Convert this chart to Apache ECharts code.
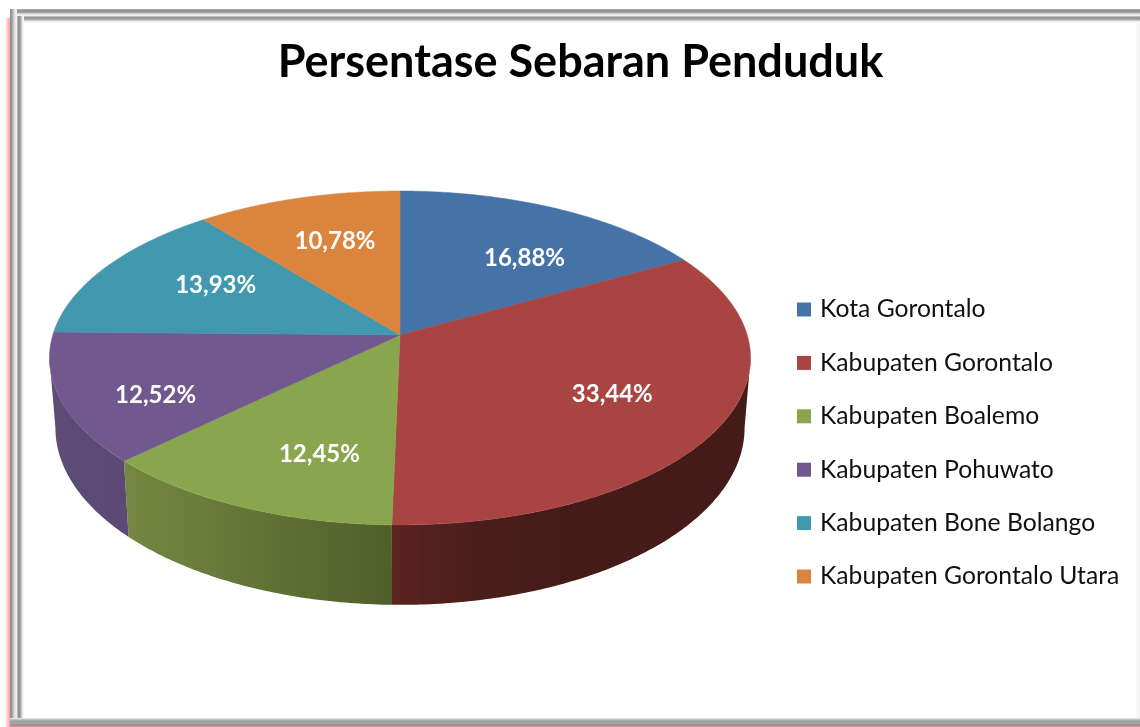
<!DOCTYPE html>
<html>
<head>
<meta charset="utf-8">
<style>html,body{margin:0;padding:0;background:#fff}#c{width:1140px;height:727px}</style>
<script src="https://cdn.jsdelivr.net/npm/echarts@6/dist/echarts.min.js"></script>
</head>
<body>
<div id="c"></div>
<script>
const chartTitle = 'Persentase Sebaran Penduduk';
const regions = ['Kota Gorontalo','Kabupaten Gorontalo','Kabupaten Boalemo','Kabupaten Pohuwato','Kabupaten Bone Bolango','Kabupaten Gorontalo Utara'];
const percentages = [16.88,33.44,12.45,12.52,13.93,10.78];
const topColors = ['#4572A7','#A84542','#89A54E','#71588F','#4198AF','#DB843D'];
// side wall shade at the beginning and the end of each slice's sweep
const sideFrom = [[50,80,120],[68,27,24],[80,95,42],[92,73,116],[50,110,130],[160,95,45]];
const sideTo   = [[50,80,120],[94,36,33],[116,136,66],[94,75,118],[50,110,130],[160,95,45]];
const sideEase = [1,5,1,1,1,1];
// label shift from the mid-slice anchor
const labelShift = [[11,15],[-7,-3],[26,4],[-10,17],[25,-1],[9,5]];

// perspective layout of the disc
const view = {cx:400, cy:335, rx:347.2, ry:163.8, k:0.1377, floorCy:403.5, floorX:0.983, floorY:1.06, labelR:0.7};
const total = percentages.reduce((a,b)=>a+b,0);
const starts = percentages.map((_,i)=>percentages.slice(0,i).reduce((a,b)=>a+b,0));

function project(angle, r, floor){
  const X = Math.sin(angle)*r, Y = -Math.cos(angle)*r, d = 1 - view.k*Y;
  const px = view.rx*X/d, py = view.ry*Y/d;
  return floor ? [view.cx + view.floorX*px, view.floorCy + view.floorY*py]
               : [view.cx + px, view.cy + py];
}
function mix(a,b,t){return 'rgb('+a.map((v,i)=>Math.round(v+(b[i]-v)*t)).join(',')+')';}

function makeSeries(name,i){
  return {
    type:'custom', name:name, coordinateSystem:'none',
    itemStyle:{color:topColors[i]},
    data:[[percentages[i],starts[i]]],
    renderItem:function(params,api){
      const v = api.value(0), s = api.value(1);
      const a0 = s/total*2*Math.PI, a1 = (s+v)/total*2*Math.PI;
      const n = Math.max(2,Math.ceil((a1-a0)/0.01));
      const children = [];
      const rim = [[view.cx,view.cy]];
      for(let j=0;j<=n;j++) rim.push(project(a0+(a1-a0)*j/n,1,false));
      // side wall: only the part of the rim facing the viewer
      const e = Math.asin(view.k);
      const front0 = Math.PI/2 + e, front1 = 3*Math.PI/2 - e;
      const b0 = Math.max(a0,front0), b1 = Math.min(a1,front1);
      if(b1>b0){
        const m = Math.max(2,Math.ceil((b1-b0)/0.012));
        const upper = [], lower = [];
        for(let j=0;j<=m;j++){
          const p = b0+(b1-b0)*j/m;
          upper.push(project(p,1,false));
          lower.unshift(project(p,1,true));
        }
        const x0 = upper[0][0], x1 = upper[m][0];
        const stops = [];
        for(let j=0;j<=10;j++){
          stops.push({offset:j/10,color:mix(sideFrom[i],sideTo[i],Math.pow(j/10,sideEase[i]))});
        }
        children.push({type:'polygon',z2:1,silent:true,
          shape:{points:upper.concat(lower)},
          style:{fill:{type:'linear',global:true,x:x0,y:0,x2:x1,y2:0,colorStops:stops}}});
      }
      children.push({type:'polygon',z2:5,silent:true,shape:{points:rim},
        style:{fill:topColors[i],stroke:topColors[i],lineWidth:0.5}});
      const lp = project((a0+a1)/2,view.labelR,false);
      children.push({type:'text',z2:10,silent:true,
        x:lp[0]+labelShift[i][0],y:lp[1]+labelShift[i][1],
        style:{text:v.toFixed(2).replace('.',',')+'%',fill:'#fff',
          font:'bold 24px Lato',align:'center',verticalAlign:'middle'}});
      return {type:'group',children:children};
    }
  };
}
function grad(x0,y0,x1,y1,stops){
  return {type:'linear',x:x0,y:y0,x2:x1,y2:y1,colorStops:stops.map((c,i)=>({offset:i/(stops.length-1),color:c}))};
}
function box(x,y,w,h,fill){return {type:'rect',silent:true,shape:{x,y,width:w,height:h},style:{fill}};}
const frame = [
  box(5,18,5,709,grad(0,0,1,0,['#ffffff','#ffc9c9','#ff9f9f'])),
  box(10,726,1130,1,'#e58f96'),
  box(10,9,1130,7,grad(0,0,0,1,['#b5b5b5','#8a8a8a','#a5a5a5','#e8e8e8','#f4f4f4'])),
  box(10,9,7,717,grad(0,0,1,0,['#8f8f8f','#9a9a9a','#c8c8c8','#e8e8e8','#f0f0f0'])),
  box(17,16,1123,7,grad(0,0,0,1,['#d0d0d0','#8d8d8d','#a8a8a8','#e8e8e8','#ffffff'])),
  box(17,16,7,704,grad(0,0,1,0,['#d0d0d0','#8a8a8a','#a5a5a5','#e5e5e5','#ffffff'])),
  box(10,718,1130,8,grad(0,0,0,1,['#f4f4f4','#c0c0c0','#9c9c9c','#a8a8a8','#9a9a9a','#8f8f8f'])),
  box(1135,23,5,695,grad(0,0,1,0,['#ffffff','#f2f2f2']))
];

const chart = echarts.init(document.getElementById('c'),null,{renderer:'canvas'});
chart.setOption({
  animation:false,
  backgroundColor:'#fff',
  title:{text:chartTitle,left:575.5,top:35,textAlign:'center',
    textStyle:{fontFamily:'Lato',fontWeight:'bold',fontSize:45,color:'#000'}},
  legend:{orient:'vertical',left:792,top:291,itemWidth:14,itemHeight:14,itemGap:26.4,
    icon:'rect',selectedMode:false,data:regions,
    textStyle:{fontFamily:'Lato',fontSize:24.7,color:'#111',lineHeight:27,padding:[0,0,0,4]}},
  graphic:{elements:frame},
  series:regions.map(makeSeries)
});
</script>
</body>
</html>
